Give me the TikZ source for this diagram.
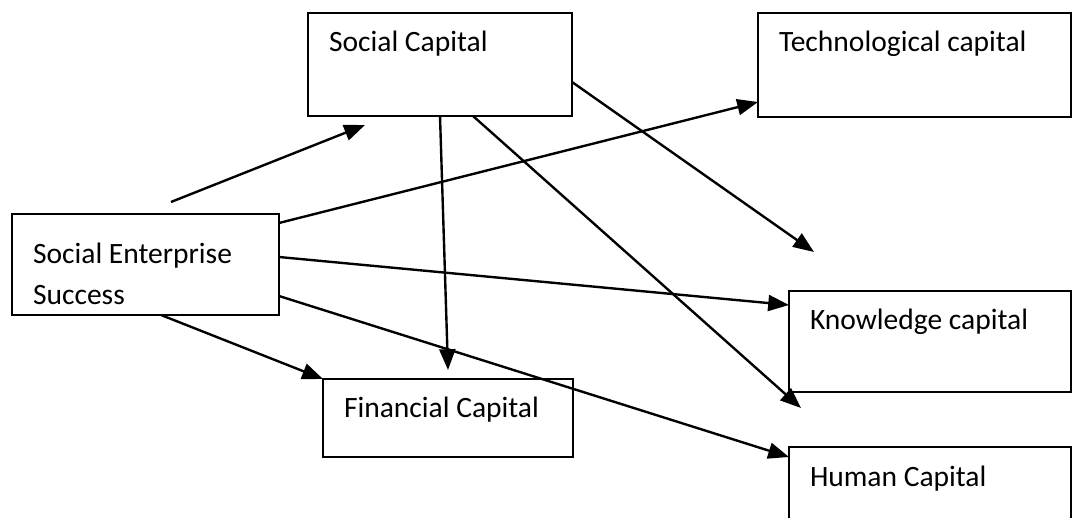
\documentclass[tikz,border=0pt]{standalone}
\usepackage{fontspec}
\setmainfont{Carlito}
\usepackage{tikz}
\usetikzlibrary{arrows.meta}

\begin{document}
\begin{tikzpicture}[
		    every node/.style={inner sep=0pt, outer sep=0pt},
		    font=\fontsize{10.5}{14.6}\selectfont
		]
		\tikzset{
		    caixa/.style={draw=black, line width=0.6pt, rectangle, anchor=north west},
		    rotulo/.style={anchor=base west, align=left},
		    seta/.style={draw=black, line width=0.85pt, -{Triangle[length=2.6mm, width=2mm]}}
		}
		\clip (0,0) rectangle (13.4,-6.475);
		\node[caixa, minimum width=3.3375cm, minimum height=1.2625cm] (ses) at (0.15,-2.675) {};
		\node[caixa, minimum width=3.3cm, minimum height=1.2875cm] (soc) at (3.85,-0.1625) {};
		\node[caixa, minimum width=3.9125cm, minimum height=1.3cm] (tec) at (9.475,-0.1625) {};
		\node[caixa, minimum width=3.525cm, minimum height=1.2625cm] (con) at (9.8625,-3.6375) {};
		\node[caixa, minimum width=3.525cm, minimum height=1.3cm] (hum) at (9.8625,-5.5875) {};
		\node[caixa, minimum width=3.125cm, minimum height=0.975cm] (fin) at (4.0375,-4.7375) {};
		\node[rotulo] at ([shift={(0.2625,-1.1375)}]ses.north west) {Social Enterprise\\Success};
		\node[rotulo] at ([shift={(0.2625,-0.4875)}]soc.north west) {Social Capital};
		\node[rotulo] at ([shift={(0.2625,-0.4875)}]tec.north west) {Technological capital};
		\node[rotulo] at ([shift={(0.2625,-0.4875)}]con.north west) {Knowledge capital};
		\node[rotulo] at ([shift={(0.2625,-0.4875)}]hum.north west) {Human Capital};
		\node[rotulo] at ([shift={(0.2625,-0.4875)}]fin.north west) {Financial Capital};
		\coordinate (inicio) at (2.1375,-2.525);
		\coordinate (fim) at (4.5625,-1.5625);
		\draw[seta] (inicio) -- (fim);
		\draw[seta] ([yshift=-0.1125cm]ses.north east) -- ([yshift=-1.1125cm]tec.north west);
		\draw[seta] ([yshift=-0.5375cm]ses.north east) -- ([yshift=-0.175cm]con.north west);
		\draw[seta] ([yshift=-1.025cm]ses.north east) -- ([yshift=-0.125cm]hum.north west);
		\draw[seta] ([xshift=1.8625cm]ses.south west) -- (fin.north west);
		\draw[seta] ([xshift=1.65cm]soc.south west) -- ([shift={(1.5625,0.1125)}]fin.north west);
		\draw[seta] ([xshift=2.0625cm]soc.south west) -- ([shift={(0.15,-0.2)}]con.south west);
		\draw[seta] ([yshift=-0.8625cm]soc.north east) -- ([shift={(0.3125,0.4875)}]con.north west);
		\end{tikzpicture}
\end{document}
